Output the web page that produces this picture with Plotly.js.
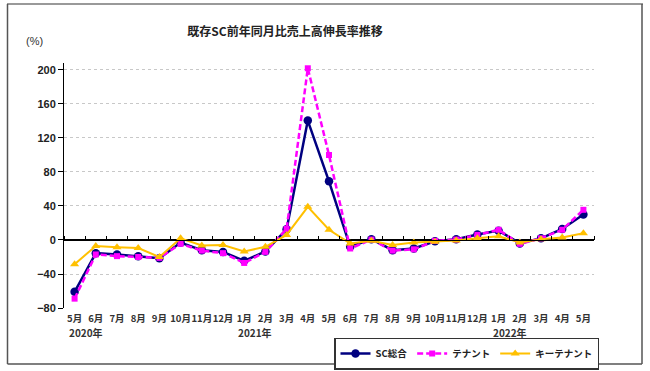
<!DOCTYPE html>
<html>
<head>
<meta charset="utf-8">
<script src="https://cdn.plot.ly/plotly-3.0.1.min.js"></script>
<style>
html,body{margin:0;padding:0;background:#fff;}
#chart{width:650px;height:371px;}
</style>
</head>
<body>
<div id="chart"></div>
<script>
// ---- data ----
const categories = ['2020/5','2020/6','2020/7','2020/8','2020/9','2020/10','2020/11','2020/12',
  '2021/1','2021/2','2021/3','2021/4','2021/5','2021/6','2021/7','2021/8','2021/9','2021/10','2021/11','2021/12',
  '2022/1','2022/2','2022/3','2022/4','2022/5'];
const monthLabels = ['5月','6月','7月','8月','9月','10月','11月','12月',
  '1月','2月','3月','4月','5月','6月','7月','8月','9月','10月','11月','12月',
  '1月','2月','3月','4月','5月'];
const yearLabels = ['2020年','2021年','2022年'];
const yearAt = ['2020/5','2021/1','2022/1'];
const scTotal = [-61,-15.5,-17,-19,-21.5,-3,-12,-14,-24.5,-13.5,12.5,140.5,69,-8,1,-12,-10,-1.5,1,6.5,11,-4,2,13,30];
const tenant = [-69,-17,-19,-20,-21,-4.5,-12.5,-15.5,-27,-14,13,202,100,-10,0.5,-12.5,-11,-1,0.5,6,12,-4.5,2,12,35.5];
const keyTenant = [-28.5,-7,-8.5,-9.5,-20,2,-6.5,-6,-13.5,-8,6,39,12,-4,-1,-6,-3,-2,-0.5,2,4.5,-3,1,3,8];
const seriesNames = ['SC総合','テナント','キーテナント'];
const yTicks = [-80,-40,0,40,80,120,160,200];

const JP = '"Noto Sans CJK JP", "Liberation Sans", sans-serif';
const AR = '"Liberation Sans", Arial, sans-serif';

const traces = [
  {x: categories, y: scTotal, name: seriesNames[0], type: 'scatter', mode: 'lines+markers',
   line: {color: '#000080', width: 2.5}, marker: {symbol: 'circle', size: 8.5, color: '#000080'}},
  {x: categories, y: tenant, name: seriesNames[1], type: 'scatter', mode: 'lines+markers',
   line: {color: '#FF00FF', width: 2.5, dash: '6px,3px'}, marker: {symbol: 'square', size: 6, color: '#FF00FF'}},
  {x: categories, y: keyTenant, name: seriesNames[2], type: 'scatter', mode: 'lines+markers',
   line: {color: '#FFC000', width: 2}, marker: {symbol: 'triangle-up', size: 8, color: '#FFC000'}}
];

// plot area geometry helpers (pixel -> paper)
const L = 64, R = 56, T = 63, B = 63, W = 650, H = 371;
const pw = W - L - R, ph = H - T - B;
const px = p => (p - L) / pw;
const py = q => (H - B - q) / ph;
const yMin = -80, yMax = 208.2;
const xRange = [-0.5, categories.length - 0.5];

const boundaries = [];
for (let i = 0; i <= categories.length; i++) boundaries.push(i - 0.5);

const annotations = [
  {text: '(%)', xref: 'paper', yref: 'paper', x: px(34.5), y: py(41), showarrow: false,
   xanchor: 'center', yanchor: 'middle', font: {family: AR, size: 11, color: '#333'}}
];
yearLabels.forEach((t, i) => annotations.push({
  text: t, xref: 'x', yref: 'paper', x: yearAt[i], y: py(332.5), xshift: -8, showarrow: false,
  xanchor: 'left', yanchor: 'middle', font: {family: JP, size: 10, color: '#333', weight: 'bold'}
}));

const frameColorDark = '#555';
const shapes = [
  {type: 'line', xref: 'paper', yref: 'paper', x0: px(7), x1: px(643), y0: py(4), y1: py(4), line: {color: '#999', width: 2}},
  {type: 'line', xref: 'paper', yref: 'paper', x0: px(7.5), x1: px(7.5), y0: py(4), y1: py(364), line: {color: frameColorDark, width: 1.5}},
  {type: 'line', xref: 'paper', yref: 'paper', x0: px(642), x1: px(642), y0: py(4), y1: py(364), line: {color: frameColorDark, width: 1.5}},
  {type: 'line', xref: 'paper', yref: 'paper', x0: px(7.5), x1: px(642), y0: py(364), y1: py(364), line: {color: frameColorDark, width: 1.5}}
];

const layout = {
  width: W, height: H,
  margin: {l: L, r: R, t: T, b: B, pad: 0, autoexpand: false},
  paper_bgcolor: '#fff', plot_bgcolor: '#fff',
  title: {text: '既存SC前年同月比売上高伸長率推移', x: 285 / W, xanchor: 'center', xref: 'container',
          y: 1 - 31.7 / H, yanchor: 'middle', yref: 'container',
          font: {family: JP, size: 12, color: '#222', weight: 'bold'}},
  xaxis: {type: 'category', range: xRange, autorange: false, tickvals: categories, ticktext: monthLabels,
          tickangle: 0, ticks: '', showgrid: false, automargin: false,
          showline: false, zeroline: false, ticklabelstandoff: 3,
          tickfont: {family: JP, size: 9.5, color: '#333', weight: 'bold'}},
  xaxis2: {overlaying: 'x', anchor: 'free', position: (0 - yMin) / (yMax - yMin), side: 'top',
           range: xRange, autorange: false, tickvals: boundaries, showticklabels: false,
           ticks: 'outside', ticklen: 4, tickcolor: '#000', tickwidth: 1,
           showline: true, linecolor: '#000', linewidth: 1, showgrid: false, zeroline: false},
  yaxis: {range: [yMin, yMax], autorange: false, tickvals: yTicks, ticks: 'outside', ticklen: 5, tickcolor: '#000',
          showline: true, linecolor: '#000', linewidth: 1, automargin: false,
          showgrid: true, gridcolor: '#c8c8c8', griddash: 'dot', gridwidth: 1,
          zeroline: true, zerolinecolor: '#000', zerolinewidth: 1,
          tickfont: {family: AR, size: 11, color: '#222', weight: 'bold'}},
  legend: {orientation: 'h', x: px(334), xanchor: 'left', y: py(337.5), yanchor: 'top',
           bgcolor: '#fff', bordercolor: '#333', borderwidth: 1.5,
           font: {family: JP, size: 9.5, color: '#222', weight: 'bold'}, traceorder: 'normal'},
  showlegend: true,
  annotations: annotations,
  shapes: shapes
};

// invisible helper trace so the overlaying zero-line axis (xaxis2) is drawn
traces.push({x: [0], y: [0], xaxis: 'x2', type: 'scatter', mode: 'markers', marker: {opacity: 0}, showlegend: false, hoverinfo: 'skip'});

Plotly.newPlot('chart', traces, layout, {displayModeBar: false, staticPlot: true});
</script>
</body>
</html>
